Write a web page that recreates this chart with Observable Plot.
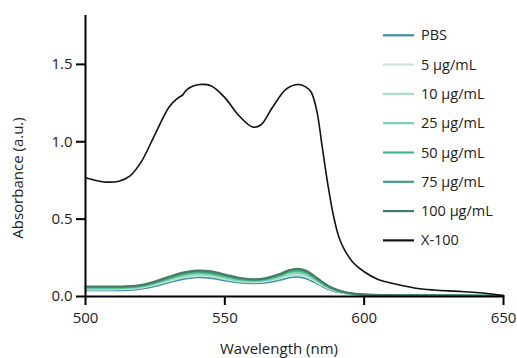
<!DOCTYPE html>
<html>
<head>
<meta charset="utf-8">
<script src="https://cdn.jsdelivr.net/npm/d3@7"></script>
<script src="https://cdn.jsdelivr.net/npm/@observablehq/plot@0.6"></script>
<style>
  html, body { margin: 0; padding: 0; background: #fff; }
  #chart { width: 517px; height: 358px; }
</style>
</head>
<body>
<div id="chart"></div>
<script>
// ---- Data ----
const seriesNames = ["PBS", "5 μg/mL", "10 μg/mL", "25 μg/mL", "50 μg/mL", "75 μg/mL", "100 μg/mL", "X-100"];
const seriesColors = ["#3f8ea3", "#c3e6da", "#a9dccb", "#78cfac", "#3dba8a", "#3a9e80", "#4a7b61", "#111111"];

const xTicks = [500, 550, 600, 650];
const yTicks = [0, 0.5, 1.0, 1.5];

// Wavelength grid for the sample series (nm)
const wlSamples = [500,510,515,520,525,530,535,540,545,550,555,560,565,570,573,576,579,582,585,588,592,596,600,610,620,635,650];
const absPBS  = [0.040,0.040,0.042,0.050,0.068,0.092,0.113,0.124,0.120,0.104,0.090,0.086,0.091,0.108,0.122,0.127,0.118,0.094,0.066,0.042,0.024,0.014,0.010,0.007,0.006,0.005,0.004];
const abs5    = [0.046,0.046,0.048,0.056,0.075,0.100,0.122,0.133,0.129,0.112,0.097,0.092,0.098,0.117,0.132,0.138,0.128,0.102,0.072,0.046,0.026,0.015,0.011,0.008,0.006,0.005,0.004];
const abs10   = [0.050,0.050,0.052,0.060,0.080,0.106,0.129,0.140,0.136,0.118,0.102,0.097,0.103,0.124,0.141,0.147,0.137,0.109,0.077,0.049,0.028,0.016,0.011,0.008,0.007,0.005,0.004];
const abs25   = [0.054,0.054,0.056,0.064,0.085,0.112,0.136,0.148,0.143,0.125,0.107,0.101,0.108,0.132,0.150,0.157,0.146,0.116,0.082,0.052,0.029,0.017,0.012,0.008,0.007,0.006,0.005];
const abs50   = [0.058,0.058,0.060,0.068,0.090,0.118,0.144,0.156,0.151,0.132,0.113,0.105,0.113,0.139,0.159,0.167,0.156,0.124,0.087,0.055,0.031,0.018,0.012,0.009,0.007,0.006,0.005];
const abs75   = [0.062,0.061,0.063,0.072,0.094,0.123,0.150,0.162,0.157,0.137,0.118,0.109,0.117,0.144,0.165,0.174,0.162,0.129,0.091,0.058,0.032,0.018,0.013,0.009,0.008,0.006,0.005];
const abs100  = [0.065,0.064,0.066,0.075,0.098,0.128,0.155,0.168,0.163,0.142,0.122,0.112,0.120,0.148,0.170,0.180,0.168,0.134,0.094,0.060,0.033,0.019,0.013,0.009,0.008,0.006,0.005];

// X-100 (lysed) curve
const wlX100  = [500,505,508,512,516,520,525,530,533,535,536,538,541,545,550,555,560,563,567,572,576,579,581,583,585,587,589,591,593,596,600,605,610,618,625,635,645,650];
const absX100 = [0.767,0.745,0.739,0.745,0.780,0.870,1.050,1.225,1.280,1.305,1.330,1.355,1.370,1.362,1.285,1.170,1.095,1.110,1.220,1.340,1.370,1.355,1.320,1.200,0.960,0.720,0.520,0.380,0.300,0.220,0.160,0.110,0.085,0.055,0.042,0.032,0.018,0.005];

// ---- Build tidy table ----
const sampleArrays = [absPBS, abs5, abs10, abs25, abs50, abs75, abs100];
const rows = [];
sampleArrays.forEach((arr, i) => {
  arr.forEach((v, j) => rows.push({series: seriesNames[i], wl: wlSamples[j], a: v}));
});
absX100.forEach((v, j) => rows.push({series: "X-100", wl: wlX100[j], a: v}));

const font = "'Open Sans', 'Noto Sans', sans-serif";

const plot = Plot.plot({
  width: 517,
  height: 358,
  marginLeft: 85,
  marginRight: 14,
  marginTop: 15,
  marginBottom: 62,
  style: {fontFamily: font, fontSize: "15px", color: "#222", background: "#fff", overflow: "visible"},
  x: {domain: [500, 650], label: null},
  y: {domain: [0, 1.816], label: null},
  color: {domain: seriesNames, range: seriesColors},
  marks: [
    Plot.line(rows.filter(d => d.series !== "X-100"), {x: "wl", y: "a", z: "series", stroke: "series", strokeWidth: 2, curve: "catmull-rom"}),
    Plot.line(rows.filter(d => d.series === "X-100"), {x: "wl", y: "a", stroke: "series", strokeWidth: 1.6, curve: "catmull-rom"}),
    Plot.axisY({ticks: yTicks, tickFormat: d3.format(".1f"), tickSize: 9, tickPadding: 4, strokeWidth: 2, stroke: "#000", fill: "#222", fontSize: 15, label: null}),
    Plot.axisX({ticks: xTicks, tickFormat: d3.format("d"), tickSize: 9, tickPadding: 7, strokeWidth: 2, stroke: "#000", fill: "#222", fontSize: 15, label: null}),
    Plot.ruleX([500], {stroke: "#000", strokeWidth: 2}),
    Plot.ruleY([0], {stroke: "#000", strokeWidth: 2})
  ]
});

document.getElementById("chart").appendChild(plot);

// ---- Axis titles and legend (text) ----
const svg = d3.select(plot);
svg.append("text")
  .attr("x", 279).attr("y", 354)
  .attr("text-anchor", "middle")
  .attr("fill", "#222")
  .style("font-family", font).style("font-size", "15px")
  .text("Wavelength (nm)");
svg.append("text")
  .attr("transform", "translate(23,178) rotate(-90)")
  .attr("text-anchor", "middle")
  .attr("fill", "#222")
  .style("font-family", font).style("font-size", "15px")
  .text("Absorbance (a.u.)");

const leg = svg.append("g").attr("text-anchor", "start");
seriesNames.forEach((name, i) => {
  const cy = 35.3 + i * 29.3;
  leg.append("line")
    .attr("x1", 383).attr("x2", 414).attr("y1", cy).attr("y2", cy)
    .attr("stroke", seriesColors[i]).attr("stroke-width", 2.2);
  leg.append("text")
    .attr("x", 421).attr("y", cy + 5)
    .attr("text-anchor", "start")
    .attr("fill", "#222")
    .style("font-family", font).style("font-size", "14.5px")
    .text(name);
});
</script>
</body>
</html>
